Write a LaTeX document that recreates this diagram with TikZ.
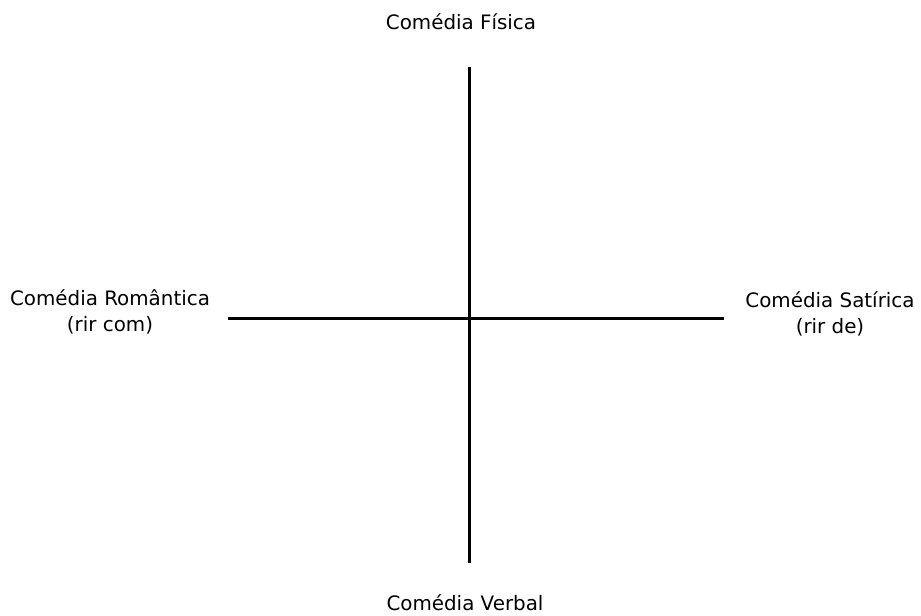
\documentclass[tikz,border=0pt]{standalone}
\usepackage{fontspec}
\setmainfont{DejaVu Sans}
\usetikzlibrary{positioning}

\begin{document}
\begin{tikzpicture}[
  x=0.75pt, y=-0.75pt,
  font=\fontsize{14.9}{19.5}\selectfont,
  pole/.style={align=center, inner sep=0pt},
  axis/.style={line width=2.25pt, black}
]
\useasboundingbox (0,0) rectangle (921,615);

% extremes of the two axes
\coordinate (top) at (469,67);
\coordinate (bottom) at (469,563);
\coordinate (left) at (228,318);
\coordinate (right) at (724,318);

\node[pole] (fisica) at (461,22) {Comédia Física};
\node[pole] (verbal) at (465,603) {Comédia Verbal};
\node[pole] (romantica) at (110,312) {Comédia Romântica\\(rir com)};
\node[pole] (satirica) at (830,314) {Comédia Satírica\\(rir de)};

\draw[axis] (top) -- (bottom);
\draw[axis] (left) -- (right);
\end{tikzpicture}
\end{document}
